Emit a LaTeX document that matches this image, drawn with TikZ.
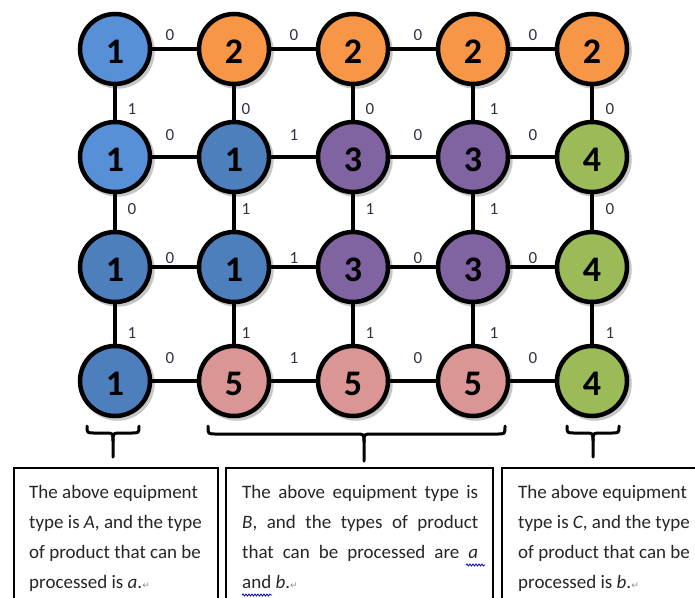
\documentclass[tikz,border=0pt]{standalone}
\usepackage{fontspec}
\setmainfont{Carlito}
\newfontfamily\symfont{DejaVu Sans}
\usetikzlibrary{decorations.pathmorphing}
\definecolor{blueL}{HTML}{5790D6}
\definecolor{blueD}{HTML}{4C7FBC}
\definecolor{orangeC}{HTML}{F79646}
\definecolor{purpleC}{HTML}{8064A2}
\definecolor{greenC}{HTML}{9BBB59}
\definecolor{pinkC}{HTML}{D99694}
\definecolor{lblcol}{RGB}{45,50,70}
\newcommand\parmk{{\symfont\fontsize{9}{9}\selectfont\color{black!45}↵}}
\begin{document}
\begin{tikzpicture}[x=1pt,y=-1pt,
  dev/.style={circle, draw=black, line width=4.5pt, minimum size=70pt, inner sep=0pt,
    font=\fontsize{36}{36}\bfseries\selectfont, text height=29pt, text depth=0pt,
    preaction={draw=black!22, fill=black!22, line width=4.5pt,
      transform canvas={xshift=2.5pt,yshift=-2.5pt}}},
  link/.style={line width=4.2pt},
  wt/.style={font=\fontsize{17}{17}\selectfont, text=lblcol, inner sep=0pt},
  brace/.style={line width=3pt, line cap=round},
  infobox/.style={draw=black, line width=1.2pt},
  txt/.style={anchor=base west, inner sep=0pt, font=\fontsize{19}{30}\selectfont, text=black!85},
  squig/.style={draw=blue!80!black, line width=0.8pt, decorate,
    decoration={snake, amplitude=1pt, segment length=3pt}}
]
\useasboundingbox (0,0) rectangle (695,597);
\clip (0,0) rectangle (695,597);
\fill[white] (0,0) rectangle (695,597);

% row 1
\node[dev, fill=blueL]   (n11) at (115,49) {1};
\node[dev, fill=orangeC] (n12) at (234,49) {2};
\node[dev, fill=orangeC] (n13) at (353,49) {2};
\node[dev, fill=orangeC] (n14) at (473,49) {2};
\node[dev, fill=orangeC] (n15) at (592,49) {2};
% row 2
\node[dev, fill=blueL]   (n21) at (115,157) {1};
\node[dev, fill=blueD]   (n22) at (234,157) {1};
\node[dev, fill=purpleC] (n23) at (353,157) {3};
\node[dev, fill=purpleC] (n24) at (473,157) {3};
\node[dev, fill=greenC]  (n25) at (592,157) {4};
% row 3
\node[dev, fill=blueD]   (n31) at (115,267) {1};
\node[dev, fill=blueD]   (n32) at (234,267) {1};
\node[dev, fill=purpleC] (n33) at (353,267) {3};
\node[dev, fill=purpleC] (n34) at (473,267) {3};
\node[dev, fill=greenC]  (n35) at (592,267) {4};
% row 4
\node[dev, fill=blueD]   (n41) at (115,381) {1};
\node[dev, fill=pinkC]   (n42) at (234,381) {5};
\node[dev, fill=pinkC]   (n43) at (353,381) {5};
\node[dev, fill=pinkC]   (n44) at (473,381) {5};
\node[dev, fill=greenC]  (n45) at (592,381) {4};

% horizontal links
\foreach \r in {1,2,3,4}{
  \draw[link] (n\r1) -- (n\r2);
  \draw[link] (n\r2) -- (n\r3);
  \draw[link] (n\r3) -- (n\r4);
  \draw[link] (n\r4) -- (n\r5);
}
% vertical links
\foreach \c in {1,2,3,4,5}{
  \draw[link] (n1\c) -- (n2\c);
  \draw[link] (n2\c) -- (n3\c);
  \draw[link] (n3\c) -- (n4\c);
}

% horizontal weights
\node[wt] (h11) at (170,35) {0};
\node[wt] (h12) at (294,35) {0};
\node[wt] (h13) at (418,35) {0};
\node[wt] (h14) at (533,35) {0};
\node[wt] (h21) at (170,135) {0};
\node[wt] (h22) at (294,135) {1};
\node[wt] (h23) at (418,135) {0};
\node[wt] (h24) at (533,135) {0};
\node[wt] (h31) at (170,258) {0};
\node[wt] (h32) at (294,258) {1};
\node[wt] (h33) at (418,258) {0};
\node[wt] (h34) at (533,258) {0};
\node[wt] (h41) at (170,358) {0};
\node[wt] (h42) at (294,358) {1};
\node[wt] (h43) at (418,358) {0};
\node[wt] (h44) at (533,358) {0};
% vertical weights
\node[wt] (v11) at (132,109) {1};
\node[wt] (v12) at (246,109) {0};
\node[wt] (v13) at (370,109) {0};
\node[wt] (v14) at (494,109) {1};
\node[wt] (v15) at (610,109) {0};
\node[wt] (v21) at (132,209) {0};
\node[wt] (v22) at (246,209) {1};
\node[wt] (v23) at (370,209) {1};
\node[wt] (v24) at (494,209) {1};
\node[wt] (v25) at (610,209) {0};
\node[wt] (v31) at (132,333) {1};
\node[wt] (v32) at (246,333) {1};
\node[wt] (v33) at (370,333) {1};
\node[wt] (v34) at (494,333) {1};
\node[wt] (v35) at (610,333) {1};

% braces
\draw[brace] (87,426) .. controls (87,433) .. (95,433) -- (105,433)
  .. controls (113,433) .. (113,441) -- (113,457);
\draw[brace] (139,426) .. controls (139,433) .. (131,433) -- (121,433)
  .. controls (113,433) .. (113,441);
\draw[brace] (208,426) .. controls (208,434) .. (216,434) -- (356,434)
  .. controls (364,434) .. (364,442) -- (364,461);
\draw[brace] (505,426) .. controls (505,434) .. (497,434) -- (372,434)
  .. controls (364,434) .. (364,442);
\draw[brace] (567,426) .. controls (567,433) .. (575,433) -- (585,433)
  .. controls (593,433) .. (593,441) -- (593,457);
\draw[brace] (619,426) .. controls (619,433) .. (611,433) -- (601,433)
  .. controls (593,433) .. (593,441);

% info boxes
\draw[infobox] (14,468) rectangle (218,615);
\draw[infobox] (226,468) rectangle (493,615);
\draw[infobox] (502,468) rectangle (710,615);

% box A text
\node[txt] (a1) at (29,498) {The above equipment};
\node[txt] (a2) at (29,528) {type is \textit{A}, and the type};
\node[txt] (a3) at (29,558) {of product that can be};
\node[txt] (a4) at (29,588) {processed is \textit{a}.\parmk};
% box B text
\node[txt] (b1) at (242,498) {\makebox[236pt][s]{The above equipment type is}};
\node[txt] (b2) at (242,528) {\makebox[236pt][s]{\textit{B}, and the types of product}};
\node[txt] (b3) at (242,558) {\makebox[236pt][s]{that can be processed are \textit{a}}};
\node[txt] (b4) at (242,588) {and \textit{b}.\parmk};
\draw[squig] (466,565) -- (485,565);
\draw[squig] (242,595) -- (272,595);
% box C text
\node[txt] (c1) at (518,498) {The above equipment};
\node[txt] (c2) at (518,528) {type is \textit{C}, and the type};
\node[txt] (c3) at (518,558) {of product that can be};
\node[txt] (c4) at (518,588) {processed is \textit{b}.\parmk};
\end{tikzpicture}
\end{document}
